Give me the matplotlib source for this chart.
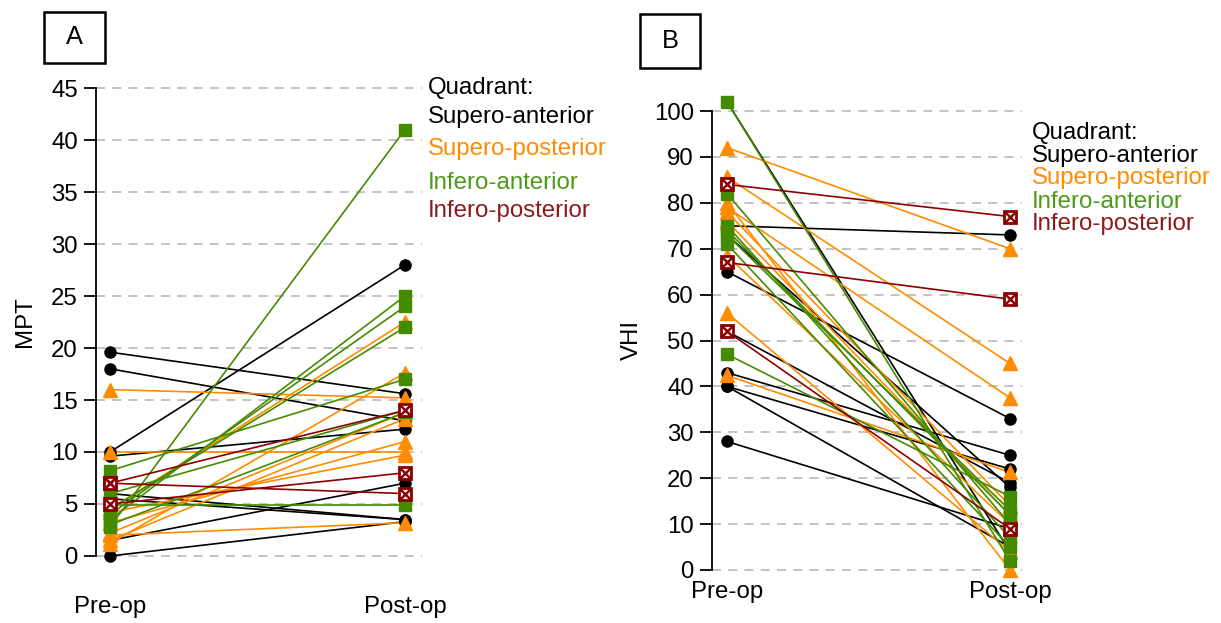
import matplotlib
matplotlib.use("Agg")
import matplotlib.pyplot as plt
from matplotlib.patches import Rectangle

plt.rcParams['font.family'] = ['Liberation Sans', 'DejaVu Sans']

# ---------------- data ----------------
groups = ["Supero-anterior", "Supero-posterior", "Infero-anterior", "Infero-posterior"]
x_labels = ["Pre-op", "Post-op"]

# Panel A: MPT
mpt_sa_pre = [19.6, 18.0, 10.0, 9.6, 6.0, 5.5, 1.5, 0.0]
mpt_sa_post = [15.6, 13.0, 28.0, 12.2, 3.5, 3.5, 7.0, 3.3]
mpt_sp_pre = [16.0, 10.0, 1.2, 1.5, 2.2, 3.2, 4.2, 2.0, 4.5]
mpt_sp_post = [15.2, 10.0, 17.6, 13.2, 13.8, 11.0, 9.7, 3.2, 22.5]
mpt_ia_pre = [8.2, 2.8, 3.5, 4.0, 4.5, 4.9, 6.0, 3.0]
mpt_ia_post = [17.0, 41.0, 25.0, 24.0, 22.0, 4.9, 14.0, 13.8]
mpt_ip_pre = [7.0, 7.0, 5.0]
mpt_ip_post = [14.0, 6.0, 8.0]

# Panel B: VHI
vhi_sa_pre = [102, 75, 73, 65, 52, 43, 40, 40, 28]
vhi_sa_post = [4, 73, 18, 33, 19, 25, 22, 5, 9]
vhi_sp_pre = [92, 85.6, 79, 78, 68.5, 56, 42.4, 80, 76]
vhi_sp_post = [70, 45, 37.5, 14, 10, 4, 21.3, 0, 12]
vhi_ia_pre = [102, 82, 75, 71, 47, 73, 74]
vhi_ia_post = [2, 10, 7, 5, 16, 13, 12]
vhi_ip_pre = [84, 67, 52]
vhi_ip_post = [77, 59, 9]

mpt_ticks = [0, 5, 10, 15, 20, 25, 30, 35, 40, 45]
vhi_ticks = [0, 10, 20, 30, 40, 50, 60, 70, 80, 90, 100]

colors = ["black", "#FF8C00", "#458B00", "#8B0000"]
legend_colors = ["black", "#FF8C00", "#4C9A1A", "#8B1A1A"]

# ---------------- figure ----------------
W, H = 1221, 623
fig = plt.figure(figsize=(W / 100, H / 100), dpi=100)
FS = 17.3


def px_axes(x0, y0, x1, y1):
    return fig.add_axes([x0 / W, 1 - y1 / H, (x1 - x0) / W, (y1 - y0) / H])


def draw_group(ax, pre, post, kind, color):
    for a, b in zip(pre, post):
        ax.plot([0, 1], [a, b], color=color, lw=1.2, zorder=2, clip_on=False)
    xs = [0] * len(pre) + [1] * len(post)
    ys = list(pre) + list(post)
    if kind == "o":
        ax.plot(xs, ys, 'o', ms=8, color=color, mec=color, ls='none', zorder=3, clip_on=False)
    elif kind == "^":
        ax.plot(xs, ys, '^', ms=9.5, color=color, mec=color, ls='none', zorder=3, clip_on=False)
    elif kind == "s":
        ax.plot(xs, ys, 's', ms=8, color=color, mec=color, ls='none', zorder=3, clip_on=False)
    else:
        ax.plot(xs, ys, 's', ms=8.5, mfc='white', mec=color, mew=2.0, ls='none', zorder=4, clip_on=False)
        ax.plot(xs, ys, 'x', ms=7, color=color, mew=1.8, ls='none', zorder=4, clip_on=False)


def panel(ax, y0px, ytop_px, ytop_val, ticks, pre_frac, post_frac, ylabel,
          ylabel_x, data, axbounds):
    x0, yt, x1, yb = axbounds
    rng = 1.0 / (post_frac - pre_frac)
    xmin = -pre_frac * rng
    ax.set_xlim(xmin, xmin + rng)
    ppu = (y0px - ytop_px) / ytop_val
    ax.set_ylim(-(yb - y0px) / ppu, ytop_val + (ytop_px - yt) / ppu)
    for t in ticks:
        ax.axhline(t, color='#BEBEBE', lw=1.3, ls=(0, (5, 4)), zorder=1)
    for sp in ['top', 'right', 'bottom']:
        ax.spines[sp].set_visible(False)
    ax.spines['left'].set_bounds(ticks[0], ticks[-1])
    ax.spines['left'].set_linewidth(1.3)
    ax.set_yticks(ticks)
    ax.set_yticklabels([str(t) for t in ticks], fontsize=FS)
    ax.tick_params(axis='y', length=9, width=1.3, pad=4)
    ax.set_xticks([])
    ax.patch.set_alpha(0)
    kinds = ["o", "^", "s", "x"]
    for (pre, post), k, c in zip(data, kinds, colors):
        draw_group(ax, pre, post, k, c)
    fig.text(ylabel_x / W, 1 - ((y0px + ytop_px) / 2) / H, ylabel, rotation=90,
             ha='center', va='center', fontsize=FS)


# Panel A
axA = px_axes(96, 70, 422, 575)
panel(axA, 556, 88, 45, mpt_ticks, (110 - 96) / 326, (405 - 96) / 326, "MPT", 25,
      [(mpt_sa_pre, mpt_sa_post), (mpt_sp_pre, mpt_sp_post),
       (mpt_ia_pre, mpt_ia_post), (mpt_ip_pre, mpt_ip_post)], (96, 70, 422, 575))

# Panel B
axB = px_axes(712, 95, 1022, 580)
panel(axB, 570, 111, 100, vhi_ticks, (727 - 712) / 310, (1010 - 712) / 310, "VHI", 632,
      [(vhi_sa_pre, vhi_sa_post), (vhi_sp_pre, vhi_sp_post),
       (vhi_ia_pre, vhi_ia_post), (vhi_ip_pre, vhi_ip_post)], (712, 95, 1022, 580))

# x category labels
for xpx, lab in zip([110, 405], x_labels):
    fig.text(xpx / W, 1 - 607 / H, lab, ha='center', va='center', fontsize=FS)
for xpx, lab in zip([727, 1010], x_labels):
    fig.text(xpx / W, 1 - 592 / H, lab, ha='center', va='center', fontsize=FS)

# legends
legA_y = [88, 117, 149, 183, 211]
legB_y = [133, 156, 178, 202, 224]
for xl, ys in [(428, legA_y), (1032, legB_y)]:
    fig.text(xl / W, 1 - ys[0] / H, "Quadrant:", ha='left', va='center', fontsize=FS, color='black')
    for y, g, c in zip(ys[1:], groups, legend_colors):
        fig.text(xl / W, 1 - y / H, g, ha='left', va='center', fontsize=FS, color=c)

# panel letter boxes
for (bx0, by0, bx1, by1, letter) in [(44, 12, 105, 63, "A"), (640, 14, 700, 68, "B")]:
    fig.patches.append(Rectangle((bx0 / W, 1 - by1 / H), (bx1 - bx0) / W, (by1 - by0) / H,
                                 transform=fig.transFigure, fill=False, lw=1.8, ec='black'))
    fig.text((bx0 + bx1) / 2 / W, 1 - (by0 + by1) / 2 / H, letter, ha='center', va='center',
             fontsize=FS + 1)

fig.savefig("out.png", dpi=100)
